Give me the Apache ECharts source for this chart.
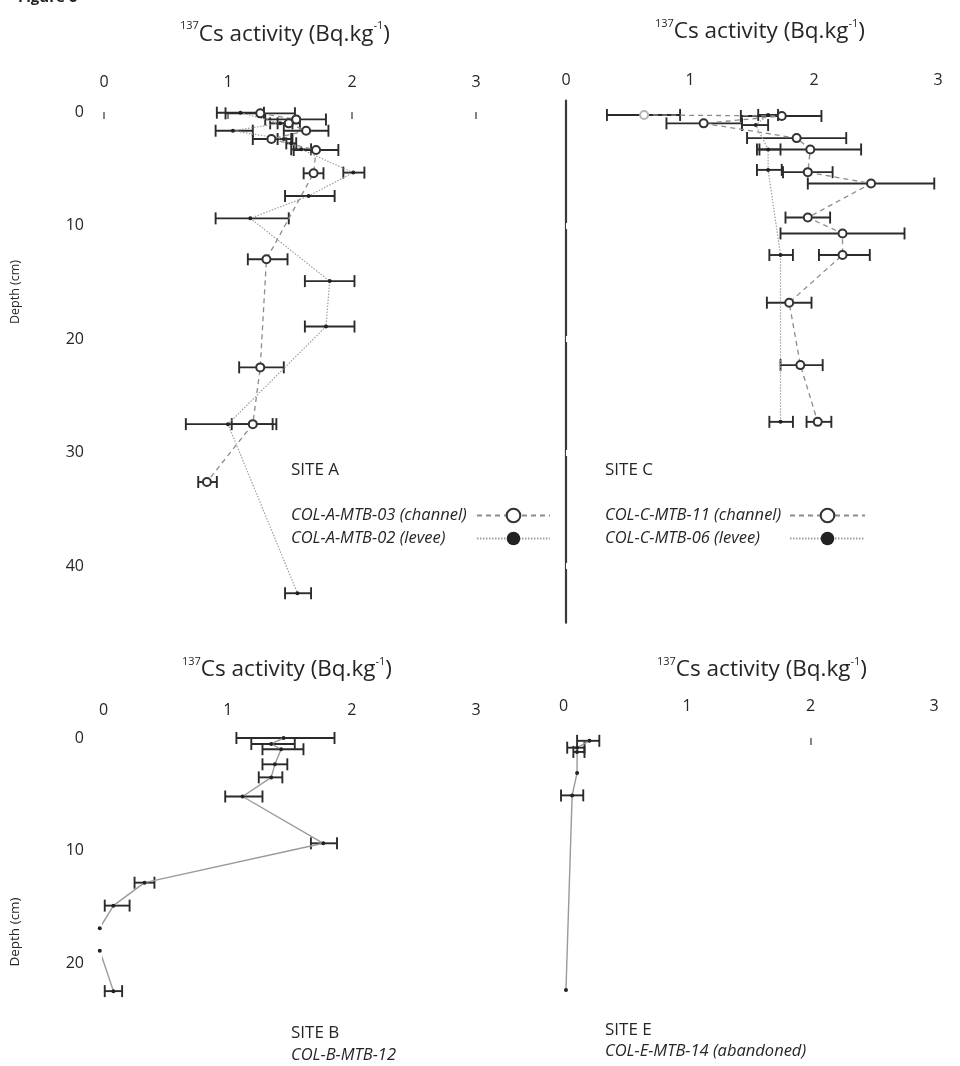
<!DOCTYPE html>
<html>
<head>
<meta charset="utf-8">
<script src="https://cdn.jsdelivr.net/npm/echarts@6/dist/echarts.min.js"></script>
<style>html,body{margin:0;padding:0;background:#fff}#c{width:960px;height:1066px}</style>
</head>
<body>
<div id="c"></div>
<script>
// ---- tick labels ----
const activityTicks = [0, 1, 2, 3];
const depthTicksTop = [0, 10, 20, 30, 40];
const depthTicksBottom = [0, 10, 20];
const siteCBreaks = [10, 20, 30, 40];

// ---- Site A, COL-A-MTB-03 (channel) ----
const aChanDepth = [0.12, 0.65, 1.0, 1.65, 2.38, 3.35, 5.4, 12.98, 22.5, 27.5, 32.6];
const aChanValue = [1.26, 1.55, 1.49, 1.63, 1.35, 1.71, 1.69, 1.31, 1.26, 1.20, 0.83];
const aChanLow   = [0.98, 1.30, 1.40, 1.45, 1.20, 1.53, 1.61, 1.16, 1.09, 1.03, 0.76];
const aChanHigh  = [1.54, 1.79, 1.58, 1.81, 1.52, 1.89, 1.77, 1.48, 1.45, 1.39, 0.91];
// ---- Site A, COL-A-MTB-02 (levee) ----
const aLevDepth = [0.06, 1.0, 1.65, 2.38, 2.76, 3.29, 5.34, 7.4, 9.37, 14.9, 18.9, 27.5, 42.4];
const aLevValue = [1.10, 1.42, 1.04, 1.45, 1.51, 1.59, 2.01, 1.65, 1.18, 1.82, 1.79, 1.00, 1.56];
const aLevLow   = [0.91, 1.34, 0.90, 1.40, 1.47, 1.51, 1.93, 1.46, 0.90, 1.62, 1.62, 0.66, 1.46];
const aLevHigh  = [1.29, 1.52, 1.20, 1.51, 1.55, 1.67, 2.10, 1.86, 1.49, 2.02, 2.02, 1.36, 1.67];

// ---- Site C, COL-C-MTB-11 (channel) ----
const cChanDepth = [0.26, 0.35, 1.0, 2.3, 3.3, 5.3, 6.3, 9.3, 10.7, 12.6, 16.8, 22.3, 27.3];
const cChanValue = [0.63, 1.74, 1.11, 1.86, 1.97, 1.95, 2.46, 1.95, 2.23, 2.23, 1.80, 1.89, 2.03];
const cChanLow   = [0.33, 1.41, 0.81, 1.46, 1.56, 1.75, 1.95, 1.77, 1.73, 2.04, 1.62, 1.73, 1.94];
const cChanHigh  = [0.92, 2.06, 1.42, 2.26, 2.38, 2.15, 2.97, 2.13, 2.73, 2.45, 1.98, 2.07, 2.14];
// ---- Site C, COL-C-MTB-06 (levee) ----
const cLevDepth = [0.26, 1.15, 3.3, 5.1, 12.6, 27.3];
const cLevValue = [1.63, 1.53, 1.63, 1.63, 1.73, 1.73];
const cLevLow   = [1.55, 1.42, 1.54, 1.54, 1.64, 1.64];
const cLevHigh  = [1.71, 1.63, 1.73, 1.74, 1.83, 1.83];

// ---- Site B, COL-B-MTB-12 ----
const bDepth = [0.0, 0.53, 1.0, 2.34, 3.5, 5.2, 9.36, 12.86, 14.9, 16.9, 18.9, 22.5];
const bValue = [1.45, 1.35, 1.43, 1.38, 1.35, 1.12, 1.77, 0.33, 0.08, -0.03, -0.03, 0.08];
const bLow   = [1.07, 1.19, 1.28, 1.28, 1.25, 0.98, 1.67, 0.25, 0.01, null, null, 0.01];
const bHigh  = [1.86, 1.54, 1.61, 1.48, 1.44, 1.28, 1.88, 0.41, 0.21, null, null, 0.15];

// ---- Site E, COL-E-MTB-14 (abandoned) ----
const eDepth = [0.25, 0.86, 1.24, 3.1, 5.1, 22.4];
const eValue = [0.21, 0.11, 0.11, 0.11, 0.07, 0.02];
const eLow   = [0.11, 0.03, 0.08, null, -0.02, null];
const eHigh  = [0.29, 0.17, 0.17, null, 0.16, null];

const FONT = '"Open Sans", Lato, sans-serif';
const TXT = '#262626';

function pairs(v, d) { return v.map((x, i) => [x, d[i]]); }
function bars(v, d, lo, hi) { return v.map((x, i) => [x, d[i], lo[i], hi[i]]); }

function errRender(params, api) {
  const lo = api.value(2), hi = api.value(3), d = api.value(1);
  if (lo == null || hi == null || isNaN(lo) || isNaN(hi)) return null;
  const a = api.coord([lo, d]), b = api.coord([hi, d]);
  const h = 6;
  const st = { stroke: '#2b2b2b', lineWidth: 1.9 };
  return { type: 'group', children: [
    { type: 'line', shape: { x1: a[0], y1: a[1], x2: b[0], y2: b[1] }, style: st },
    { type: 'line', shape: { x1: a[0], y1: a[1] - h, x2: a[0], y2: a[1] + h }, style: st },
    { type: 'line', shape: { x1: b[0], y1: b[1] - h, x2: b[0], y2: b[1] + h }, style: st }
  ]};
}

function errSeries(xi, yi, v, d, lo, hi) {
  return { type: 'custom', xAxisIndex: xi, yAxisIndex: yi, renderItem: errRender,
    data: bars(v, d, lo, hi), encode: { x: 0, y: 1 }, z: 2, silent: true, clip: false };
}
// faintFirst: the first channel point at site C is printed in pale grey in the source figure
function chanSeries(name, xi, yi, v, d, faintFirst) {
  const data = pairs(v, d).map((p, i) => (faintFirst && i === 0)
    ? { value: p, itemStyle: { color: '#b5b5b5', borderWidth: 1.4 } } : p);
  return { type: 'line', name, xAxisIndex: xi, yAxisIndex: yi, data,
    symbol: 'emptyCircle', symbolSize: 8,
    lineStyle: { color: '#8c8c8c', width: 1.3, type: [5, 4] },
    itemStyle: { color: '#333', borderWidth: 1.8 }, z: 4, clip: false, silent: true };
}
function levSeries(name, xi, yi, v, d) {
  return { type: 'line', name, xAxisIndex: xi, yAxisIndex: yi, data: pairs(v, d),
    symbol: 'circle', symbolSize: 4,
    lineStyle: { color: '#a0a0a0', width: 1.2, type: [1.5, 1.5] },
    itemStyle: { color: '#222' }, z: 4, clip: false, silent: true };
}
function solidSeries(name, xi, yi, v, d) {
  return { type: 'line', name, xAxisIndex: xi, yAxisIndex: yi, data: pairs(v, d),
    symbol: 'circle', symbolSize: 4,
    lineStyle: { color: '#9a9a9a', width: 1.4 },
    itemStyle: { color: '#222' }, z: 4, clip: false, silent: true };
}

function xAx(grid, margin, tickVals) {
  return { gridIndex: grid, type: 'value', position: 'top', min: 0, max: 3, interval: 1,
    axisLine: { show: false },
    axisTick: tickVals ? { show: true, inside: true, length: 7, customValues: tickVals,
      lineStyle: { color: '#666', width: 1.6 } } : { show: false },
    axisLabel: { margin, fontSize: 16, color: TXT, fontFamily: FONT, customValues: activityTicks },
    splitLine: { show: false } };
}

const titleText = '{s|137}Cs activity (Bq.kg{s|-1})';
function titleGraphic(x, y) {
  return { type: 'text', x, y, style: { text: titleText, fontSize: 22.5, fontFamily: FONT, fill: TXT, verticalAlign: 'top', lineHeight: 28,
    rich: { s: { fontSize: 11, verticalAlign: 'top', fontFamily: FONT, fill: TXT, lineHeight: 10 } } } };
}
function legendCfg(names, left, textW, iconW) {
  return { data: names, orient: 'vertical', align: 'right',
    left, top: 507, itemWidth: iconW, itemHeight: 17, itemGap: 6, padding: 0, selectedMode: false,
    formatter: n => '{t|' + n + '}',
    textStyle: { color: TXT, rich: { t: { width: textW, align: 'left', fontSize: 16.5, fontStyle: 'italic', fontFamily: FONT, lineHeight: 17, color: TXT } } } };
}

const option = {
  animation: false,
  backgroundColor: '#fff',
  grid: [
    { left: 104, top: 100.65, width: 372, height: 522.1 },
    { left: 566, top: 100.65, width: 372, height: 522.1 },
    { left: 103.5, top: 726.75, width: 372.6, height: 292.5 },
    { left: 563.5, top: 726.75, width: 370.5, height: 292.5 }
  ],
  xAxis: [
    xAx(0, 10, activityTicks),
    xAx(1, 12, null),
    xAx(2, 8, null),
    xAx(3, 12, [2])
  ],
  yAxis: [
    { gridIndex: 0, type: 'value', inverse: true, min: -1, max: 45,
      axisLine: { show: false }, axisTick: { show: false }, splitLine: { show: false },
      axisLabel: { customValues: depthTicksTop, margin: 20, fontSize: 16, color: TXT, fontFamily: FONT } },
    { gridIndex: 1, type: 'value', inverse: true, min: -1, max: 45,
      axisLine: { show: true, lineStyle: { color: '#3a3a3a', width: 2.2 } },
      axisTick: { show: true, inside: true, length: 5, customValues: siteCBreaks, lineStyle: { color: '#fff', width: 6 } },
      axisLabel: { show: false }, splitLine: { show: false } },
    { gridIndex: 1, type: 'value', inverse: true, min: -1, max: 45, z: 1,
      axisLine: { show: false },
      axisTick: { show: true, inside: false, length: 5, customValues: siteCBreaks, lineStyle: { color: '#fff', width: 6 } },
      axisLabel: { show: false }, splitLine: { show: false } },
    { gridIndex: 2, type: 'value', inverse: true, min: -1, max: 25,
      axisLine: { show: false }, axisTick: { show: false }, splitLine: { show: false },
      axisLabel: { customValues: depthTicksBottom, margin: 19.5, fontSize: 16, color: TXT, fontFamily: FONT } },
    { gridIndex: 3, type: 'value', inverse: true, min: -1, max: 25,
      axisLine: { show: false }, axisTick: { show: false }, splitLine: { show: false },
      axisLabel: { show: false } }
  ],
  legend: [
    legendCfg(['COL-A-MTB-03 (channel)', 'COL-A-MTB-02 (levee)'], 291, 181, 73),
    legendCfg(['COL-C-MTB-11 (channel)', 'COL-C-MTB-06 (levee)'], 605, 180, 75)
  ],
  series: [
    errSeries(0, 0, aChanValue, aChanDepth, aChanLow, aChanHigh),
    errSeries(0, 0, aLevValue, aLevDepth, aLevLow, aLevHigh),
    chanSeries('COL-A-MTB-03 (channel)', 0, 0, aChanValue, aChanDepth, false),
    levSeries('COL-A-MTB-02 (levee)', 0, 0, aLevValue, aLevDepth),
    errSeries(1, 1, cChanValue, cChanDepth, cChanLow, cChanHigh),
    errSeries(1, 1, cLevValue, cLevDepth, cLevLow, cLevHigh),
    chanSeries('COL-C-MTB-11 (channel)', 1, 1, cChanValue, cChanDepth, true),
    levSeries('COL-C-MTB-06 (levee)', 1, 1, cLevValue, cLevDepth),
    errSeries(2, 3, bValue, bDepth, bLow, bHigh),
    solidSeries('COL-B-MTB-12', 2, 3, bValue, bDepth),
    errSeries(3, 4, eValue, eDepth, eLow, eHigh),
    solidSeries('COL-E-MTB-14 (abandoned)', 3, 4, eValue, eDepth)
  ],
  graphic: [
    { type: 'text', x: 18, y: 5, style: { text: 'Figure 6', fontSize: 15, fontWeight: 'bold', fontFamily: FONT, fill: '#222', verticalAlign: 'bottom' } },
    titleGraphic(180, 20.5),
    titleGraphic(655, 18),
    titleGraphic(182, 656),
    titleGraphic(657, 656),
    { type: 'text', x: 15, y: 292, rotation: Math.PI / 2, style: { text: 'Depth (cm)', fontSize: 12.5, fontFamily: FONT, fill: TXT, align: 'center', verticalAlign: 'middle' } },
    { type: 'text', x: 15, y: 932, rotation: Math.PI / 2, style: { text: 'Depth (cm)', fontSize: 13.5, fontFamily: FONT, fill: TXT, align: 'center', verticalAlign: 'middle' } },
    { type: 'text', x: 291, y: 470, style: { text: 'SITE A', fontSize: 17, fontFamily: FONT, fill: TXT, verticalAlign: 'middle' } },
    { type: 'text', x: 605, y: 470, style: { text: 'SITE C', fontSize: 17, fontFamily: FONT, fill: TXT, verticalAlign: 'middle' } },
    { type: 'text', x: 291, y: 1033, style: { text: 'SITE B', fontSize: 17, fontFamily: FONT, fill: TXT, verticalAlign: 'middle' } },
    { type: 'text', x: 291, y: 1055, style: { text: 'COL-B-MTB-12', fontSize: 16.5, fontStyle: 'italic', fontFamily: FONT, fill: TXT, verticalAlign: 'middle' } },
    { type: 'text', x: 605, y: 1030, style: { text: 'SITE E', fontSize: 17, fontFamily: FONT, fill: TXT, verticalAlign: 'middle' } },
    { type: 'text', x: 605, y: 1051, style: { text: 'COL-E-MTB-14 (abandoned)', fontSize: 16.5, fontStyle: 'italic', fontFamily: FONT, fill: TXT, verticalAlign: 'middle' } }
  ]
};

const chart = echarts.init(document.getElementById('c'));
chart.setOption(option);
</script>
</body>
</html>
